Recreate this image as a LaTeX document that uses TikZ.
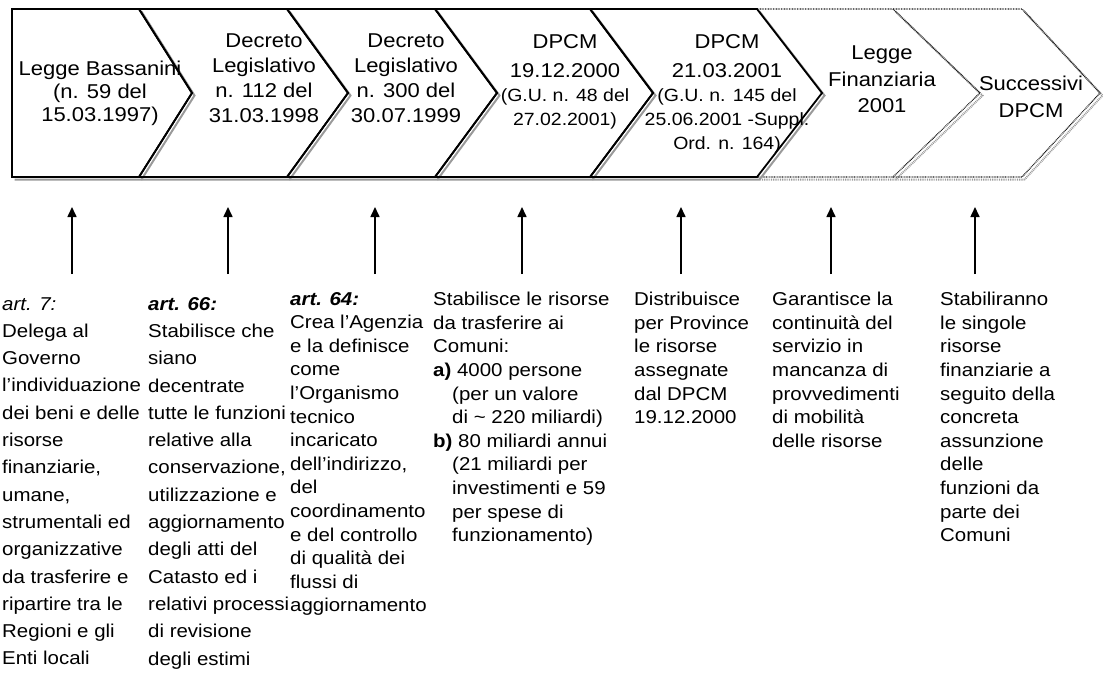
\documentclass[tikz,border=0pt]{standalone}
\usepackage{fontspec}
\setmainfont{Liberation Sans}[FakeStretch=1.1]
\usetikzlibrary{arrows.meta}
\definecolor{shadowgray}{HTML}{9A9A9A}
\newcommand\chevsmall{\fontsize{17.7}{23}\selectfont}
\tikzset{
    chev/.style={line width=1.8pt, line join=miter},
    chevdot/.style={line width=1.3pt, black!90, dash pattern=on 0.8pt off 0.8pt},
    chevshadow/.style={line width=2pt, shadowgray, shift={(2.5,2.5)}},
    chevtxt/.style={anchor=north, align=center, inner sep=0pt,
        font=\fontsize{20}{#1}\selectfont},
    coltxt/.style={anchor=north west, align=left, inner sep=0pt,
        font=\fontsize{18.6}{#1}\selectfont},
    uparrow/.style={-{Triangle[length=10pt,width=9pt]}, line width=1.6pt}
}

\begin{document}
\begin{tikzpicture}[x=1pt,y=-1pt, line cap=butt]

\useasboundingbox (0,0) rectangle (1103,672);
\clip (0,0) rectangle (1103,672);

\def\yT{9}
\def\yM{93}
\def\yB{177}

% dotted chevrons (still to come)
\draw[chevshadow, dash pattern=on 0.9pt off 0.9pt]
  (893,\yT) -- (980,\yM) -- (893,\yB) -- (757,\yB);
\draw[chevshadow, dash pattern=on 0.9pt off 0.9pt]
  (1022,\yT) -- (1100,\yM) -- (1022,\yB) -- (893,\yB);
\draw[chevdot] (757,\yT) -- (893,\yT) -- (980,\yM) -- (893,\yB) -- (757,\yB);
\draw[chevdot] (893,\yT) -- (1022,\yT) -- (1100,\yM) -- (1022,\yB) -- (893,\yB);

% shadows of the solid chevrons
\foreach \a/\t/\p in {139/192/12, 287/348/139, 435/497/287, 590/653/435, 757/822/590} {
  \draw[chevshadow] (\a,\yT) -- (\t,\yM) -- (\a,\yB) -- (\p,\yB);
}

% solid chevrons
\draw[chev] (12,\yT) -- (139,\yT) -- (192,\yM) -- (139,\yB) -- (12,\yB) -- cycle;
\foreach \a/\t/\p/\q in {287/348/139/192, 435/497/287/348, 590/653/435/497, 757/822/590/653} {
  \draw[chev] (\p,\yT) -- (\a,\yT) -- (\t,\yM) -- (\a,\yB) -- (\p,\yB) -- (\q,\yM) -- cycle;
}

% labels in the chevrons
\node[chevtxt=23] (bassanini) at (100,61) {Legge Bassanini\\(n. 59 del\\15.03.1997)};
\node[chevtxt=25] (dlgsA) at (264,34) {Decreto\\Legislativo\\n. 112 del\\31.03.1998};
\node[chevtxt=25] (dlgsB) at (406,34) {Decreto\\Legislativo\\n. 300 del\\30.07.1999};
\node[chevtxt=24] (dpcmA) at (565,34)
  {DPCM\\[5pt]19.12.2000\\{\chevsmall (G.U. n. 48 del}\\{\chevsmall 27.02.2001)}};
\node[chevtxt=24] (dpcmB) at (727,34)
  {DPCM\\[5pt]21.03.2001\\{\chevsmall (G.U. n. 145 del}\\{\chevsmall 25.06.2001 -Suppl.}\\{\chevsmall Ord. n. 164)}};
\node[chevtxt=26.5] (finanz) at (882,46) {Legge\\Finanziaria\\2001};
\node[chevtxt=27] (succ) at (1031,76) {Successivi\\DPCM};

% arrows
\foreach \x [count=\i] in {72,228,375,522,681,831,975} {
  \coordinate (foot\i) at (\x,274);
  \coordinate (head\i) at (\x,207);
  \draw[uparrow] (foot\i) -- (head\i);
}

% columns of text
\node[coltxt=27.3] (artA) at (2,297) {\textit{art. 7:}\\Delega al\\Governo\\l'individuazione\\dei beni e delle\\risorse\\finanziarie,\\umane,\\strumentali ed\\organizzative\\da trasferire e\\ripartire tra le\\Regioni e gli\\Enti locali};
\node[coltxt=27.3] (artB) at (148,297) {\textbf{\textit{art. 66:}}\\Stabilisce che\\siano\\decentrate\\tutte le funzioni\\relative alla\\conservazione,\\utilizzazione e\\aggiornamento\\degli atti del\\Catasto ed i\\relativi processi\\di revisione\\degli estimi};
\node[coltxt=23.6] (artC) at (290,292) {\textbf{\textit{art. 64:}}\\Crea l'Agenzia\\e la definisce\\come\\l'Organismo\\tecnico\\incaricato\\dell'indirizzo,\\del\\coordinamento\\e del controllo\\di qualità dei\\flussi di\\aggiornamento};
\node[coltxt=23.6] (risorse) at (433,292) {Stabilisce le risorse\\da trasferire ai\\Comuni:\\\textbf{a)} 4000 persone\\\hspace*{19pt}(per un valore\\\hspace*{19pt}di \textasciitilde{} 220 miliardi)\\\textbf{b)} 80 miliardi annui\\\hspace*{19pt}(21 miliardi per\\\hspace*{19pt}investimenti e 59\\\hspace*{19pt}per spese di\\\hspace*{19pt}funzionamento)};
\node[coltxt=23.6] (distrib) at (634,292) {Distribuisce\\per Province\\le risorse\\assegnate\\dal DPCM\\19.12.2000};
\node[coltxt=23.6] (garant) at (772,292) {Garantisce la\\continuità del\\servizio in\\mancanza di\\provvedimenti\\di mobilità\\delle risorse};
\node[coltxt=23.6] (stabil) at (940,292) {Stabiliranno\\le singole\\risorse\\finanziarie a\\seguito della\\concreta\\assunzione\\delle\\funzioni da\\parte dei\\Comuni};

\end{tikzpicture}
\end{document}
